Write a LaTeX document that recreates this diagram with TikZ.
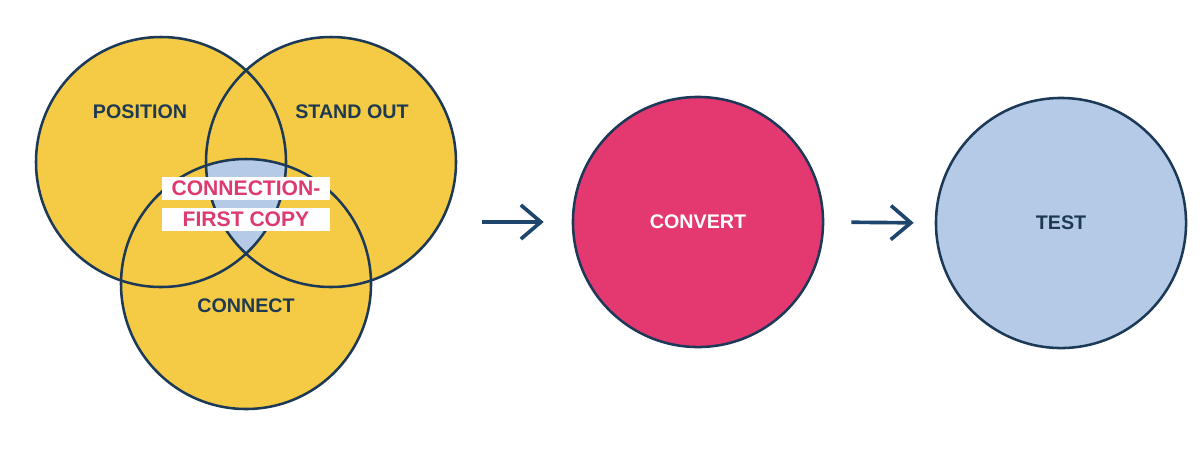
\documentclass[tikz,border=0pt]{standalone}
\usepackage{fontspec}
\setmainfont{Liberation Sans}
\usetikzlibrary{arrows.meta,positioning}
\definecolor{vennyellow}{RGB}{245,203,69}
\definecolor{convertpink}{RGB}{228,57,112}
\definecolor{testblue}{RGB}{180,202,230}
\definecolor{outlinenavy}{RGB}{28,58,88}
\definecolor{labelnavy}{RGB}{30,58,82}
\definecolor{notepink}{RGB}{221,58,112}
\definecolor{arrownavy}{RGB}{30,70,108}

\begin{document}
\begin{tikzpicture}[x=0.025cm,y=-0.025cm,
    ring/.style={circle,minimum size=6.25cm,inner sep=0pt},
    outline/.style={draw=outlinenavy,line width=1.8pt},
    lbl/.style={font=\fontsize{14}{16}\selectfont\bfseries,text=labelnavy},
    notebox/.style={fill=white,minimum width=4.2cm,minimum height=0.575cm,inner sep=0pt,
      text=notepink,font=\fontsize{15}{17}\selectfont\bfseries},
    flow/.style={-{Straight Barb[length=0.5cm,width=0.85cm]},line width=2.6pt,draw=arrownavy}]
    \fill[white] (0,0) rectangle (1200,450);
    \useasboundingbox (0,0) rectangle (1200,450);

    % venn: three yellow circles
    \node[ring,fill=vennyellow] (position) at (161,162) {};
    \node[ring,fill=vennyellow] (standout) at (331,162) {};
    \node[ring,fill=vennyellow] (connect) at (246,284) {};

    % centre where all three overlap
    \begin{scope}
      \clip (position.center) circle[radius=125];
      \clip (standout.center) circle[radius=125];
      \fill[testblue] (connect.center) circle[radius=125];
    \end{scope}
    \foreach \c in {position,standout,connect}
      \draw[outline] (\c.center) circle[radius=125];

    \node[lbl] at (140,112) {POSITION};
    \node[lbl] at (352,112) {STAND OUT};
    \node[lbl] at (246,306) {CONNECT};
    \node[notebox] (note1) at (246,188.5) {CONNECTION-};
    \node[notebox] (note2) at (246,219.5) {FIRST COPY};

    % the two later steps
    \node[ring,fill=convertpink,outline] (convert) at (698,222) {};
    \node[lbl,text=white] at (convert) {CONVERT};
    \node[ring,fill=testblue,outline] (test) at (1061,223) {};
    \node[lbl] at (test) {TEST};

    \draw[flow,shorten <=0.65cm,shorten >=0.7cm] (convert.west -| standout.east) -- (convert.west);
    \draw[flow,shorten <=0.675cm,shorten >=0.525cm] (convert.east) -- (test.west);
\end{tikzpicture}
\end{document}
